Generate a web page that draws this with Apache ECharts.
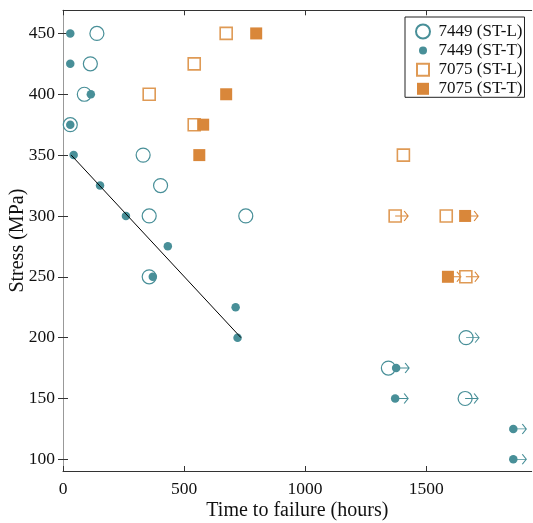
<!DOCTYPE html>
<html>
<head>
<meta charset="utf-8">
<script src="https://cdn.jsdelivr.net/npm/echarts@6/dist/echarts.min.js"></script>
<style>html,body{margin:0;padding:0;background:#fff}#c{width:533px;height:523px}</style>
</head>
<body>
<div id="c"></div>
<script>
// ---- data ----
const xTicks = [0, 500, 1000, 1500];
const yTicks = [100, 150, 200, 250, 300, 350, 400, 450];

// 7449 (ST-L) open circles
const a7449L_hours   = [140, 113, 88, 30, 331, 403, 356, 755, 356, 1665, 1344, 1661];
const a7449L_stress  = [450, 425, 400, 375, 350, 325, 300, 300, 250, 200, 175, 150];
const a7449L_runout  = [0, 0, 0, 0, 0, 0, 0, 0, 0, 1, 0, 1];

// 7449 (ST-T) filled circles
const a7449T_hours   = [30, 30, 115, 30, 44, 153, 260, 433, 371, 713, 721, 1376, 1372, 1860, 1860];
const a7449T_stress  = [450, 425, 400, 375, 350, 325, 300, 275, 250, 225, 200, 175, 150, 125, 100];
const a7449T_runout  = [0, 0, 0, 0, 0, 0, 0, 0, 0, 0, 0, 1, 1, 1, 1];

// 7075 (ST-L) open squares
const a7075L_hours   = [674, 542, 356, 542, 1406, 1372, 1583, 1664];
const a7075L_stress  = [450, 425, 400, 375, 350, 300, 300, 250];
const a7075L_runout  = [0, 0, 0, 0, 0, 1, 0, 1];

// 7075 (ST-T) filled squares
const a7075T_hours   = [798, 674, 579, 563, 1661, 1590];
const a7075T_stress  = [450, 400, 375, 350, 300, 250];
const a7075T_runout  = [0, 0, 0, 0, 1, 1];

// fitted line for 7449 (ST-T)
const fitHours  = [34, 735];
const fitStress = [350, 200];

// ---- styles ----
const TEAL = '#488f98';
const ORANGE = '#d9873a';
const FONT = 'Liberation Serif';

const pts = (h, s) => h.map((v, i) => [v, s[i]]);
const runs = (h, s, r) => h.map((v, i) => [v, s[i]]).filter((_, i) => r[i]);
const ARROW = 'path://M0,5L13,5M9,0.6L13,5L9,9.4';

function arrowSeries(data, color) {
  return {
    type: 'scatter', data: data, symbol: ARROW, symbolSize: [13, 10], symbolOffset: [6.5, 0],
    itemStyle: { color: 'none', borderColor: color, borderWidth: 1, opacity: 1 }, z: 1, silent: true
  };
}

const chart = echarts.init(document.getElementById('c'), null, { renderer: 'canvas' });
const axisCommonX = {
  type: 'value', min: 0, max: 1936,
  axisLine: { lineStyle: { color: '#333', width: 1 } },
  axisTick: { inside: true, length: 5, customValues: xTicks, lineStyle: { color: '#333' } },
  splitLine: { show: false }
};
const axisCommonY = {
  type: 'value', min: 90.4, max: 469,
  axisLine: { lineStyle: { color: '#333', width: 1 } },
  axisTick: { inside: true, length: 5, customValues: yTicks, lineStyle: { color: '#333' } },
  splitLine: { show: false }
};

chart.setOption({
  animation: false,
  backgroundColor: '#fff',
  grid: { left: 63, right: 1.3, top: 10.3, bottom: 52, containLabel: false, outerBoundsMode: 'none' },
  xAxis: [
    Object.assign({}, axisCommonX, {
      position: 'bottom',
      axisLabel: { customValues: xTicks, formatter: v => String(v), color: '#111', fontFamily: FONT, fontSize: 17.5, margin: 9 },
      name: 'Time to failure (hours)', nameLocation: 'middle', nameGap: 30, nameMoveOverlap: false,
      nameTextStyle: { color: '#111', fontFamily: FONT, fontSize: 20 }
    }),
    Object.assign({}, axisCommonX, {
      position: 'top', axisLabel: { show: false }
    })
  ],
  yAxis: [
    Object.assign({}, axisCommonY, {
      position: 'left',
      axisLabel: { customValues: yTicks, formatter: v => String(v), color: '#111', fontFamily: FONT, fontSize: 17.5, margin: 8 },
      name: 'Stress (MPa)', nameLocation: 'middle', nameGap: 35, nameMoveOverlap: false,
      nameTextStyle: { color: '#111', fontFamily: FONT, fontSize: 20 }
    }),
    Object.assign({}, axisCommonY, {
      position: 'right', axisLabel: { show: false },
      axisLine: { lineStyle: { color: '#999', width: 1 } }
    })
  ],
  legend: {
    left: 405, top: 17,
    orient: 'vertical',
    backgroundColor: '#fff',
    borderColor: '#222', borderWidth: 1, borderRadius: 0,
    padding: [6, 2, 0, 10],
    itemWidth: 14, itemHeight: 14, itemGap: 2.1,
    textStyle: { color: '#111', fontFamily: FONT, fontSize: 17, lineHeight: 14, padding: [0, 0, 0, 3.6] },
    data: [
      { name: '7449 (ST-L)' },
      { name: '7449 (ST-T)', icon: 'path://M0,0M14,14M3,7A4,4 0 1 0 11,7A4,4 0 1 0 3,7Z' },
      { name: '7075 (ST-L)', icon: 'path://M0,0M14,14M1,1L13,1L13,13L1,13Z' },
      { name: '7075 (ST-T)', icon: 'path://M0,0M14,14M1,1L13,1L13,13L1,13Z' }
    ]
  },
  series: [
    arrowSeries(runs(a7449L_hours, a7449L_stress, a7449L_runout), TEAL),
    arrowSeries(runs(a7449T_hours, a7449T_stress, a7449T_runout), TEAL),
    arrowSeries(runs(a7075L_hours, a7075L_stress, a7075L_runout), ORANGE),
    arrowSeries(runs(a7075T_hours, a7075T_stress, a7075T_runout), ORANGE),
    {
      name: '7449 (ST-L)', type: 'scatter', data: pts(a7449L_hours, a7449L_stress),
      symbol: 'circle', symbolSize: 14, z: 2,
      itemStyle: { color: 'rgba(255,255,255,0)', borderColor: TEAL, borderWidth: 1.2, opacity: 1 }
    },
    {
      name: '7449 (ST-T)', type: 'scatter', data: pts(a7449T_hours, a7449T_stress),
      symbol: 'circle', symbolSize: 8.5, z: 3,
      itemStyle: { color: TEAL, opacity: 1 }
    },
    {
      name: '7075 (ST-L)', type: 'scatter', data: pts(a7075L_hours, a7075L_stress),
      symbol: 'rect', symbolSize: 12, z: 2,
      itemStyle: { color: 'rgba(255,255,255,0)', borderColor: '#df9a55', borderWidth: 1.6, opacity: 1 }
    },
    {
      name: '7075 (ST-T)', type: 'scatter', data: pts(a7075T_hours, a7075T_stress),
      symbol: 'rect', symbolSize: 12, z: 3,
      itemStyle: { color: ORANGE, opacity: 1 }
    },
    {
      type: 'line', data: pts(fitHours, fitStress), symbol: 'none', z: 4, silent: true,
      lineStyle: { color: '#000', width: 1 }
    }
  ]
});
</script>
</body>
</html>
